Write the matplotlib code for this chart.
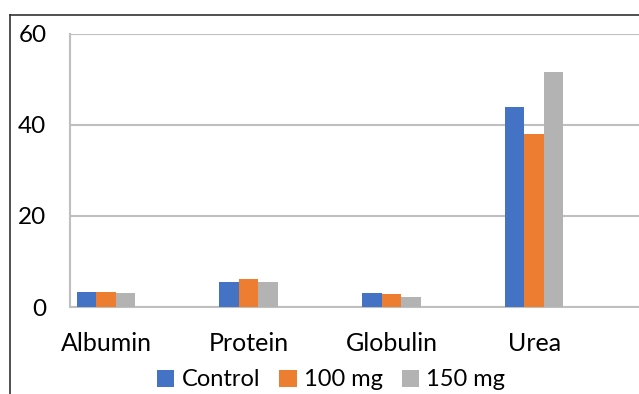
import matplotlib.pyplot as plt
import numpy as np
from matplotlib.lines import Line2D

# donnees
categories = ["Albumin", "Protein", "Globulin", "Urea"]
series_names = ["Control", "100 mg", "150 mg"]
control = [3.3, 5.4, 3.0, 43.9]
mg100 = [3.4, 6.2, 2.8, 38.0]
mg150 = [3.1, 5.6, 2.3, 51.6]
yticks = [0, 20, 40, 60]

colors = ["#4472C4", "#ED7D31", "#B3B3B3"]

plt.rcParams['font.family'] = ['Lato', 'DejaVu Sans']

fig = plt.figure(figsize=(6.39, 3.94), dpi=100)
ax = fig.add_axes([70 / 639, 1 - 307 / 394, 1 - 70 / 639, (307 - 34) / 394])

x = np.arange(len(categories))
w = 0.137
for i, (vals, name) in enumerate(zip([control, mg100, mg150], series_names)):
    ax.bar(x + (i - 1) * w, vals, w, color=colors[i], label=name, zorder=3)

ax.set_ylim(0, 60)
ax.set_xlim(-0.252, 3.735)
ax.set_yticks(yticks)
ax.set_yticklabels([str(t) for t in yticks], fontsize=17.5)
ax.set_xticks(x)
ax.set_xticklabels(categories, fontsize=18)
ax.tick_params(axis='both', length=0)
ax.tick_params(axis='y', pad=17)
ax.tick_params(axis='x', pad=18)
ax.grid(axis='y', color='#BFBFBF', linewidth=1.5, zorder=0)

for s in ['top', 'right']:
    ax.spines[s].set_visible(False)
ax.spines['left'].set_color('#BFBFBF')
ax.spines['left'].set_linewidth(1.5)
ax.spines['bottom'].set_color('#BFBFBF')
ax.spines['bottom'].set_linewidth(1.5)

# cadre exterieur (haut et gauche seulement, image recadree)
fig.add_artist(Line2D([10 / 639, 1], [1 - 14.5 / 394, 1 - 14.5 / 394], color='#333333', lw=1.2))
fig.add_artist(Line2D([10 / 639, 10 / 639], [0, 1 - 14.5 / 394], color='#333333', lw=1.2))

fig.legend(loc='center', bbox_to_anchor=(331 / 639, 1 - 380 / 394), ncol=3, frameon=False,
           fontsize=17, handlelength=0.75, handleheight=0.75, handletextpad=0.3,
           columnspacing=0.8, borderaxespad=0)

fig.savefig("out.png", dpi=100)
